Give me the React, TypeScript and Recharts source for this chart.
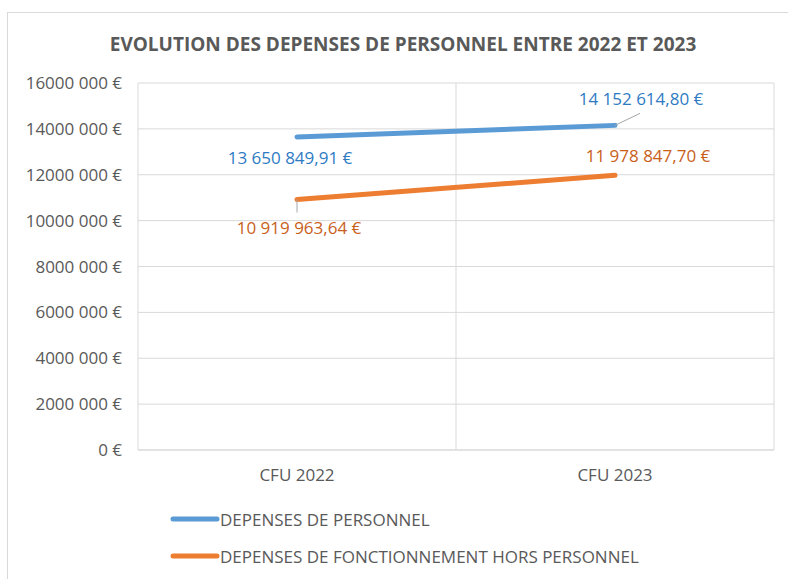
import React from 'react';
import { LineChart, Line, XAxis, YAxis, CartesianGrid, LabelList } from 'recharts';

const title = 'EVOLUTION DES DEPENSES DE PERSONNEL ENTRE 2022 ET 2023';
const categories = ['CFU 2022', 'CFU 2023'];
const personnel = [13650849.91, 14152614.8];
const fonctionnement = [10919963.64, 11978847.7];
const yTicks = [0, 2000000, 4000000, 6000000, 8000000, 10000000, 12000000, 14000000, 16000000];
const seriesNames = ['DEPENSES DE PERSONNEL', 'DEPENSES DE FONCTIONNEMENT HORS PERSONNEL'];

const data = categories.map((c, i) => ({ cat: c, personnel: personnel[i], fonct: fonctionnement[i] }));

const FONT = '"Open Sans", "Liberation Sans", sans-serif';
const TEXT = '#595959';
const GRID = '#D9D9D9';
const BLUE = '#5B9BD5';
const ORANGE = '#ED7D31';
const BLUE_LABEL = '#2E7BC4';
const ORANGE_LABEL = '#C8601A';

// label placement relative to the point (text centre + optional leader line end)
const placement: Record<string, { dx: number; dy: number; lx?: number; ly?: number }[]> = {
  personnel: [
    { dx: -7, dy: 21 },
    { dx: 26, dy: -27, lx: 25, ly: -12 },
  ],
  fonct: [
    { dx: 2, dy: 28, lx: 0, ly: 13 },
    { dx: 33, dy: -20 },
  ],
};

const fmtTick = (v: number) => {
  if (v < 1000) return `${v} €`;
  const hi = Math.floor(v / 1000);
  const lo = String(v % 1000).padStart(3, '0');
  return `${hi} ${lo} €`;
};

const fmtLabel = (v: number) => {
  const [ip, dp] = v.toFixed(2).split('.');
  const grouped = ip.replace(/\B(?=(\d{3})+(?!\d))/g, ' ');
  return `${grouped},${dp} €`;
};

const makeLabel = (key: string, color: string) => (props: any) => {
  const { x, y, value, index } = props;
  const p = placement[key][index];
  return (
    <g key={`${key}-${index}`}>
      {p.lx !== undefined && (
        <line x1={x} y1={y} x2={x + p.lx} y2={y + (p.ly as number)} stroke="#A6A6A6" strokeWidth={1} />
      )}
      <text
        x={x + p.dx}
        y={y + p.dy}
        textAnchor="middle"
        dominantBaseline="central"
        fill={color}
        fontSize={17}
        fontFamily={FONT}
      >
        {fmtLabel(value)}
      </text>
    </g>
  );
};

export default function App() {
  return (
    <div style={{ position: 'absolute', left: 0, top: 0, width: 788, height: 579, background: '#fff', overflow: 'hidden', fontFamily: FONT }}>
      <div style={{ position: 'absolute', left: 7, top: 12, width: 800, height: 600, border: `1px solid ${GRID}` }} />
      <div style={{ position: 'absolute', left: 0, width: 806, top: 30, textAlign: 'center', fontWeight: 700, fontSize: 19, color: TEXT, lineHeight: '28px' }}>
        {title}
      </div>
      <div style={{ position: 'absolute', left: 0, top: 0 }}>
        <LineChart width={788} height={579} data={data} margin={{ top: 83, right: 14, bottom: 99, left: 8 }}>
          <CartesianGrid
            stroke={GRID}
            strokeWidth={1}
            verticalCoordinatesGenerator={({ offset }: any) => [
              offset.left,
              offset.left + offset.width / 2,
              offset.left + offset.width,
            ]}
          />
          <XAxis
            dataKey="cat"
            height={30}
            padding={{ left: 159, right: 159 }}
            axisLine={{ stroke: GRID }}
            tickLine={false}
            tickMargin={13}
            tick={{ fill: TEXT, fontSize: 17, fontFamily: FONT }}
          />
          <YAxis
            width={130}
            domain={[0, 16000000]}
            ticks={yTicks}
            axisLine={false}
            tickLine={false}
            tickSize={0}
            tickMargin={16}
            tickFormatter={fmtTick}
            tick={{ fill: TEXT, fontSize: 17, fontFamily: FONT }}
          />
          <Line dataKey="personnel" name={seriesNames[0]} stroke={BLUE} strokeWidth={5} strokeLinecap="round" dot={false} activeDot={false} isAnimationActive={false}>
            <LabelList dataKey="personnel" content={makeLabel('personnel', BLUE_LABEL)} />
          </Line>
          <Line dataKey="fonct" name={seriesNames[1]} stroke={ORANGE} strokeWidth={5} strokeLinecap="round" dot={false} activeDot={false} isAnimationActive={false}>
            <LabelList dataKey="fonct" content={makeLabel('fonct', ORANGE_LABEL)} />
          </Line>
        </LineChart>
      </div>
      {seriesNames.map((n, i) => (
        <div key={n} style={{ position: 'absolute', left: 170, top: 507 + i * 37, height: 24, display: 'flex', alignItems: 'center', color: TEXT, fontSize: 17 }}>
          <svg width={50} height={10} style={{ display: 'block' }}>
            <line x1={3} y1={5} x2={47} y2={5} stroke={i === 0 ? BLUE : ORANGE} strokeWidth={5} strokeLinecap="round" />
          </svg>
          <span>{n}</span>
        </div>
      ))}
    </div>
  );
}
